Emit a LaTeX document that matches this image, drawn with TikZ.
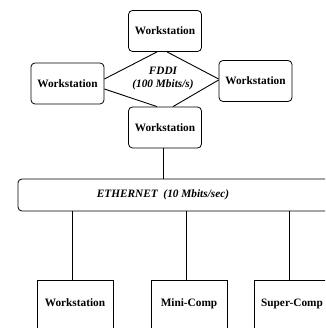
\documentclass[tikz,border=0pt]{standalone}
\usepackage{fontspec}
\setmainfont{Liberation Serif}
\usetikzlibrary{calc}

\begin{document}
\begin{tikzpicture}[x=1pt,y=-1pt,
  ws/.style={draw,rounded corners=4pt,line width=0.8pt,minimum width=73pt,minimum height=41pt,
    font=\fontsize{11.3}{13}\selectfont\bfseries},
  pc/.style={draw,line width=0.8pt,minimum width=76pt,minimum height=60pt,text depth=14pt,
    font=\fontsize{11.3}{13}\selectfont\bfseries},
  tag/.style={font=\fontsize{11.3}{13}\selectfont\bfseries\itshape,align=center},
  ring/.style={line width=0.9pt},
  wire/.style={line width=0.8pt}]
\useasboundingbox (0,0) rectangle (325,328);
\clip (0,0) rectangle (325,328);
% FDDI ring
\node[ws] (wst) at (165,31) {Workstation};
\node[ws] (wsl) at (67.5,83.5) {Workstation};
\node[ws] (wsr) at (255.5,81) {Workstation};
\node[ws] (wsb) at (165,127.5) {Workstation};
\node[tag] (fddi) at (163,79) {FDDI\\(100 Mbits/s)};
\draw[ring] ($(wsl.east)+(0,-4.5)$) -- ($(wst.south)+(-8,0)$);
\draw[ring] ($(wst.south)+(2,0)$) -- ($(wsr.west)+(0,-2)$);
\draw[ring] ($(wsl.east)+(0,5.5)$) -- ($(wsb.north)+(-8,0)$);
\draw[ring] ($(wsb.north)+(8,0)$) -- ($(wsr.west)+(0,-1)$);
% ethernet
\node[draw,rounded corners=4pt,line width=0.8pt,minimum width=330pt,minimum height=32pt,
  label={[tag,xshift=-20pt]center:ETHERNET~~(10 Mbits/sec)}] (eth) at (183,195) {};
\draw[wire] ($(wsb.south)+(-2,0)$) -- ($(wsb.south |- eth.north)+(-2,0)$);
\node[pc] (pc1) at (75,310) {Workstation};
\node[pc] (pc2) at (189,310) {Mini-Comp};
\node[pc] (pc3) at (292,310) {Super-Comp};
\foreach \n in {pc1,pc2,pc3}
  \draw[wire] ($(\n.north)+(-3,0)$) -- ($(\n.north |- eth.south)+(-3,0)$);
\end{tikzpicture}
\end{document}
